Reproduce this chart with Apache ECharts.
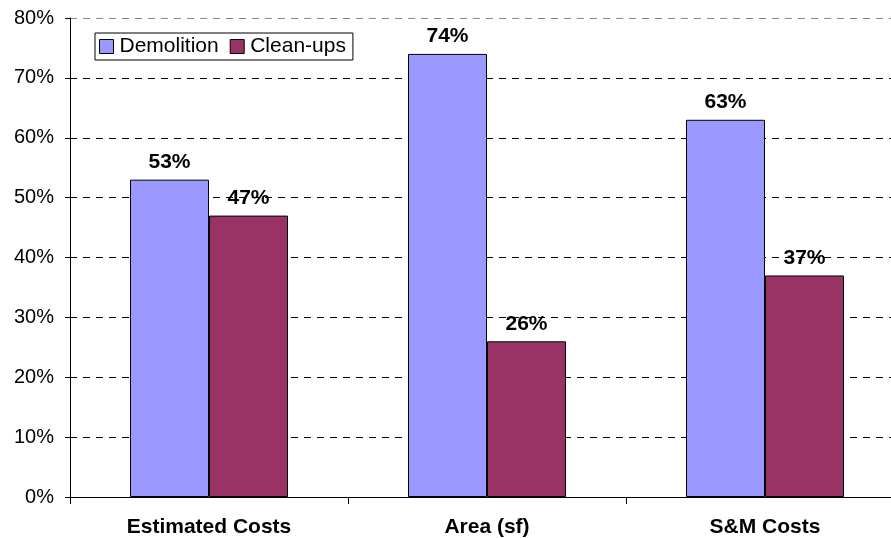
<!DOCTYPE html>
<html><head><meta charset="utf-8">
<script src="https://cdn.jsdelivr.net/npm/echarts@6/dist/echarts.min.js"></script>
<style>html,body{margin:0;padding:0;background:#fff;overflow:hidden;width:891px;height:538px}#c{width:904px;height:538px}</style>
</head><body><div id="c"></div>
<script>
const categories = ['Estimated Costs', 'Area (sf)', 'S&M Costs'];
const demolition = [53, 74, 63];
const cleanups = [47, 26, 37];
const yTicks = [0, 10, 20, 30, 40, 50, 60, 70, 80];

const chart = echarts.init(document.getElementById('c'));
const font = 'Liberation Sans, Arial, sans-serif';
const lbl = {show: true, position: 'top', distance: 7, formatter: p => p.value + '%', fontFamily: font, fontWeight: 'bold', fontSize: 21, color: '#000'};
chart.setOption({
  animation: false,
  grid: {left: 70, top: 18, right: 0, bottom: 40, containLabel: false},
  legend: {
    left: 95, top: 33, padding: [3, 7, 3, 4], itemGap: 11,
    borderColor: '#000', borderWidth: 1, backgroundColor: '#fff',
    itemWidth: 14, itemHeight: 14, icon: 'rect',
    itemStyle: {borderColor: '#000', borderWidth: 1},
    textStyle: {fontFamily: font, fontSize: 21, color: '#000', padding: [0, 0, 0, 1]},
    data: ['Demolition', 'Clean-ups']
  },
  xAxis: {
    type: 'category', data: categories,
    axisLine: {lineStyle: {color: '#000', width: 1}},
    axisTick: {show: true, length: 7, lineStyle: {color: '#000'}},
    axisLabel: {fontFamily: font, fontWeight: 'bold', fontSize: 21, color: '#000', margin: 20}
  },
  yAxis: {
    type: 'value', min: 0, max: 80, interval: 10,
    axisLine: {show: true, lineStyle: {color: '#000'}},
    axisTick: {show: true, length: 5, lineStyle: {color: '#000'}},
    axisLabel: {fontFamily: font, fontSize: 20, color: '#000', margin: 16, formatter: v => yTicks.includes(v) ? v + '%' : ''},
    splitLine: {lineStyle: {color: ['#000','#000','#000','#000','#000','#000','#000','#000','#888'], type: [7, 6], width: 1}}
  },
  series: [
    {name: 'Demolition', type: 'bar', data: demolition, barWidth: 79, barGap: '0%',
     itemStyle: {color: '#9999FF', borderColor: '#000', borderWidth: 1}, label: lbl},
    {name: 'Clean-ups', type: 'bar', data: cleanups, barWidth: 79,
     itemStyle: {color: '#993366', borderColor: '#000', borderWidth: 1}, label: lbl}
  ]
});
</script></body></html>
